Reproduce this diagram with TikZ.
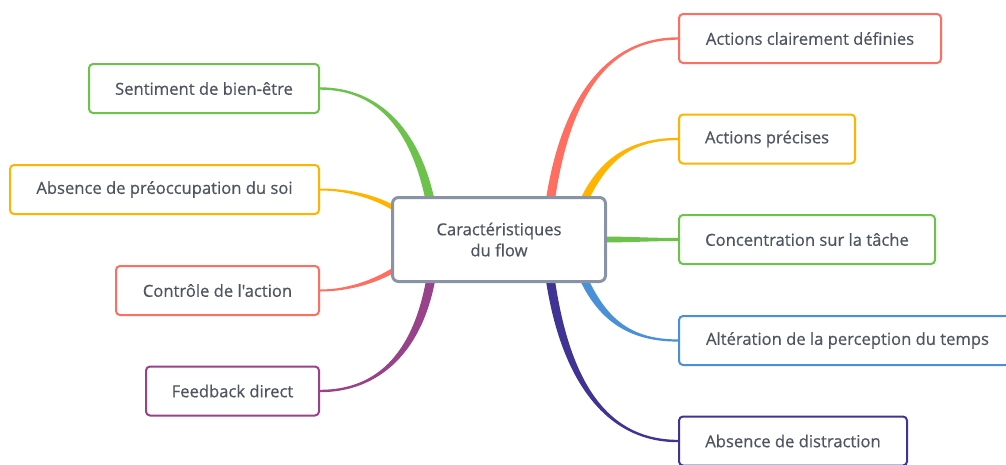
\documentclass[tikz,border=0pt]{standalone}
\usepackage{fontspec}
\setmainfont{Open Sans}
\newfontfamily\lblfont{Open Sans}[FakeBold=0.6]
\usetikzlibrary{calc}
\pgfdeclarelayer{bg}
\pgfsetlayers{bg,main}
\definecolor{cred}{HTML}{FF6F61}
\definecolor{corange}{HTML}{FFB400}
\definecolor{cgreen}{HTML}{6CC24A}
\definecolor{cblue}{HTML}{4A90D9}
\definecolor{cdpurple}{HTML}{3F3494}
\definecolor{cpurple}{HTML}{974289}
\definecolor{cgray}{HTML}{8894A6}
\definecolor{ctext}{HTML}{4F5560}
\newcommand{\branch}[7]{%
  \path #2 coordinate (p0) #3 coordinate (p1) #4 coordinate (p2) #5 coordinate (p3);
  \coordinate (a0) at ($(p0)!#6!90:(p1)$);
  \coordinate (b0) at ($(p0)!#6!-90:(p1)$);
  \coordinate (a3) at ($(p3)!#7!-90:(p2)$);
  \coordinate (b3) at ($(p3)!#7!90:(p2)$);
  \fill[#1] (a0) .. controls ($(p1)+(a0)-(p0)$) and ($(p2)+(a3)-(p3)$) .. (a3)
    -- (b3) .. controls ($(p2)+(b3)-(p3)$) and ($(p1)+(b0)-(p0)$) .. (b0) -- cycle;
}
\tikzset{
  leaf/.style={draw=#1, line width=2pt, rounded corners=4pt, fill=white,
    minimum height=49pt, text=ctext, inner sep=0pt,
    font=\lblfont\fontsize{16.6}{18}\selectfont},
  hub/.style={draw=cgray, line width=3pt, rounded corners=6pt, fill=white,
    minimum width=213pt, minimum height=84pt, align=center, text=ctext,
    inner sep=0pt, font=\lblfont\fontsize{16.6}{21}\selectfont}
}
\begin{document}
\begin{tikzpicture}[x=1pt,y=-1pt]
\path[use as bounding box] (0,0) rectangle (1006,464);
\clip (0,0) rectangle (1006,464);
\node[hub] (c) at (499,239.5) {Caractéristiques\\du flow};
% right
\node[leaf=cred, minimum width=262pt, anchor=west] (r1) at (678,38.5) {Actions clairement définies};
\node[leaf=corange, minimum width=176pt, anchor=west] (r2) at (678,139) {Actions précises};
\node[leaf=cgreen, minimum width=256pt, anchor=west] (r3) at (678,239.5) {Concentration sur la tâche};
\node[leaf=cblue, minimum width=337pt, anchor=west] (r4) at (678,340.5) {Altération de la perception du temps};
\node[leaf=cdpurple, minimum width=228pt, anchor=west] (r5) at (678,441) {Absence de distraction};
% left
\node[leaf=cgreen, minimum width=230pt, anchor=east] (l1) at (320,88.5) {Sentiment de bien-être};
\node[leaf=corange, minimum width=309pt, anchor=east] (l2) at (320,189.5) {Absence de préoccupation du soi};
\node[leaf=cred, minimum width=203pt, anchor=east] (l3) at (320,290.5) {Contrôle de l{\char"0027}action};
\node[leaf=cpurple, minimum width=173pt, anchor=east] (l4) at (320,391) {Feedback direct};
\begin{pgfonlayer}{bg}
\branch{cred}{(549,210)}{(562,110)}{(600,38.5)}{(r1.west)}{4.5pt}{1.2pt}
\branch{corange}{(582,205)}{(602,160)}{(630,139)}{(r2.west)}{4pt}{1.1pt}
\branch{cgreen}{(600,239.5)}{(630,239.5)}{(650,239.5)}{(r3.west)}{3pt}{1.5pt}
\branch{cblue}{(582,275)}{(602,320)}{(630,340.5)}{(r4.west)}{4pt}{1.1pt}
\branch{cdpurple}{(549,270)}{(562,370)}{(600,441)}{(r5.west)}{4.5pt}{1.2pt}
\branch{cgreen}{(432,210)}{(418,132)}{(380,88.5)}{(l1.east)}{4.5pt}{1.2pt}
\branch{corange}{(400,212)}{(380,198)}{(350,189.5)}{(l2.east)}{2.5pt}{1pt}
\branch{cred}{(400,266)}{(380,280)}{(350,290.5)}{(l3.east)}{2.5pt}{1pt}
\branch{cpurple}{(432,272)}{(420,350)}{(380,391)}{(l4.east)}{4.5pt}{1.2pt}
\end{pgfonlayer}
\end{tikzpicture}
\end{document}
